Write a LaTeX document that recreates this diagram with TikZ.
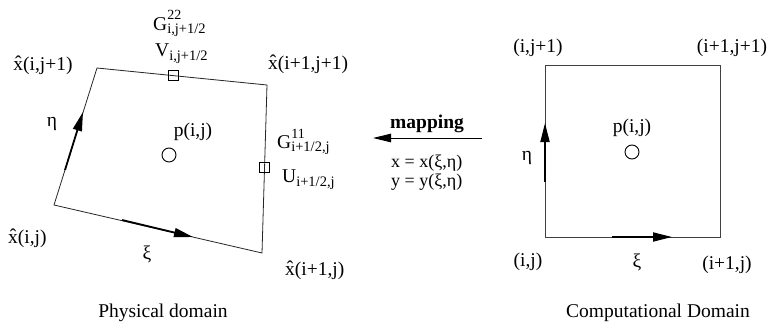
\documentclass[tikz,border=0pt]{standalone}
\usepackage{fontspec}
\setmainfont{Liberation Serif}
\usetikzlibrary{arrows.meta}
\newcommand{\xhat}{\^x}
\newcommand{\supsub}[3]{#1\rlap{\raisebox{10pt}{\fontsize{14}{14}\selectfont #2}}\raisebox{-3.5pt}{\fontsize{14.5}{14.5}\selectfont #3}}
\newcommand{\subonly}[2]{#1\raisebox{-4pt}{\fontsize{14.5}{14.5}\selectfont #2}}
\begin{document}
\begin{tikzpicture}[x=1pt,y=-1pt,
  every node/.style={font=\fontsize{19.5}{23}\selectfont, inner sep=0pt},
  edge/.style={line width=0.8pt, black!85},
  dirarrow/.style={line width=1.8pt, -{Triangle[length=19pt,width=9pt]}},
  marker/.style={draw, line width=0.7pt, minimum size=10pt, inner sep=0pt, fill=none},
  pnode/.style={draw, circle, line width=0.9pt, minimum size=14pt, inner sep=0pt},
  lbl/.style={anchor=base west},
  eqn/.style={anchor=base west, font=\fontsize{18}{20}\selectfont}]
\useasboundingbox (0,0) rectangle (768,324);
% physical cell
\coordinate (A) at (54,205);
\coordinate (B) at (262,253);
\coordinate (C) at (267,85);
\coordinate (D) at (97,68);
\draw[edge] (A) -- (B) -- (C) -- (D) -- cycle;
\coordinate (xs) at (122,220);
\coordinate (xt) at (193,237);
\coordinate (es) at (65,170);
\coordinate (et) at (83,112);
\draw[dirarrow] (xs) -- (xt);
\draw[dirarrow] (es) -- (et);
\node[marker] (vm) at (173,75.6) {};
\node[marker] (um) at (264.6,167) {};
\node[pnode] (pc) at (169,155) {};
\node[anchor=base] (l1) at (43,70) {\xhat(i,j+1)};
\node[lbl] (g22) at (153,30) {\supsub{G}{22}{i,j+1/2}};
\node[lbl] (v) at (155,56) {\subonly{V}{i,j+1/2}};
\node[lbl] (l2) at (268,69) {\xhat(i+1,j+1)};
\node (eta1) at (52,124) {η};
\node (p1) at (193,132) {p(i,j)};
\node[lbl] (g11) at (277,148) {\supsub{G}{11}{i+1/2,j}};
\node[lbl] (u) at (282,182) {\subonly{U}{i+1/2,j}};
\node[lbl] (l3) at (8,243) {\xhat(i,j)};
\node (xi1) at (147,254) {ξ};
\node[lbl] (l4) at (285,275) {\xhat(i+1,j)};
% mapping
\coordinate (ms) at (482,138);
\coordinate (mt) at (373,138);
\draw[line width=1pt, -{Triangle[length=18pt,width=8.5pt]}] (ms) -- (mt);
\node[lbl] (map) at (390,128) {\textbf{mapping}};
\node[eqn] (eq1) at (391,167) {x = x(ξ,η)};
\node[eqn] (eq2) at (391,186) {y = y(ξ,η)};
% computational cell
\coordinate (a) at (545,237);
\coordinate (b) at (720,237);
\coordinate (c) at (720,65);
\coordinate (d) at (545,65);
\draw[edge, black!75] (a) -- (b) -- (c) -- (d) -- cycle;
\coordinate (cxs) at (612,237);
\coordinate (cxt) at (672,237);
\coordinate (ces) at (545,182);
\coordinate (cet) at (545,123);
\draw[dirarrow] (cxs) -- (cxt);
\draw[dirarrow] (ces) -- (cet);
\node[pnode] (pc2) at (632,152) {};
\node (r1) at (538,48) {(i,j+1)};
\node (r2) at (732,48) {(i+1,j+1)};
\node (p2) at (632,128) {p(i,j)};
\node (eta2) at (527,158) {η};
\node (r3) at (528,262) {(i,j)};
\node (xi2) at (637,262) {ξ};
\node (r4) at (727,265) {(i+1,j)};
% captions
\node[anchor=base] (cap1) at (163,317) {Physical domain};
\node[anchor=base] (cap2) at (658,317) {Computational Domain};
\end{tikzpicture}
\end{document}
